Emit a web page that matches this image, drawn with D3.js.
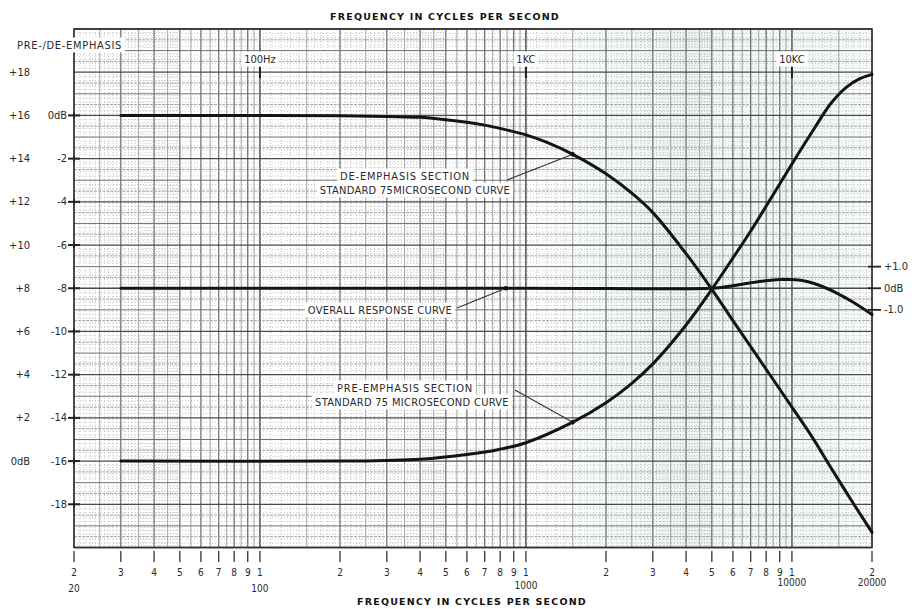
<!DOCTYPE html>
<html>
<head>
<meta charset="utf-8">
<script src="https://cdnjs.cloudflare.com/ajax/libs/d3/7.8.5/d3.min.js"></script>
<style>
  html, body { margin: 0; padding: 0; background: #fff; }
  svg { display: block; }
  .lbl { font-family: "DejaVu Sans Condensed", "DejaVu Sans", sans-serif; fill: #2a2a2a; }
  .title { font-family: "DejaVu Sans", sans-serif; font-weight: bold; fill: #111; letter-spacing: 1.2px; }
</style>
</head>
<body>
<script>
// De-emphasis section (inner scale, 0 dB at top)
const deEmphasisFreq = [30, 100, 200, 300, 400, 500, 600, 700, 800, 1000, 1200, 1500, 2000, 2500, 3000, 4000, 5000, 6000, 7000, 8000, 10000, 12000, 14000, 17000, 20000];
const deEmphasisDb   = [0, 0, -0.01, -0.05, -0.09, -0.2, -0.32, -0.45, -0.6, -0.9, -1.25, -1.8, -2.7, -3.6, -4.5, -6.4, -8.05, -9.5, -10.7, -11.75, -13.5, -14.95, -16.3, -17.95, -19.3];

// Pre-emphasis section (outer scale, 0 dB at bottom)
const preEmphasisFreq = [30, 200, 300, 400, 600, 800, 1000, 1500, 2000, 2500, 3000, 4000, 5000, 6000, 7000, 8000, 10000, 12000, 14000, 16000, 18000, 20000];
const preEmphasisDb   = [0, 0, 0.03, 0.08, 0.3, 0.55, 0.85, 1.8, 2.7, 3.6, 4.5, 6.3, 7.95, 9.4, 10.65, 11.8, 13.75, 15.3, 16.55, 17.3, 17.7, 17.9];

// Overall response (right-hand scale, +/-1 dB)
const overallFreq = [30, 1000, 5000, 5500, 6000, 7000, 8000, 9000, 10000, 11500, 13000, 14500, 17000, 20000];
const overallDb   = [0, 0, 0, 0.05, 0.12, 0.25, 0.35, 0.4, 0.4, 0.3, 0.08, -0.18, -0.65, -1.22];

// Axis tick values and labels
const innerTicks  = [0, -2, -4, -6, -8, -10, -12, -14, -16, -18];
const innerLabels = ["0dB", "-2", "-4", "-6", "-8", "-10", "-12", "-14", "-16", "-18"];
const outerTicks  = [18, 16, 14, 12, 10, 8, 6, 4, 2, 0];
const outerLabels = ["+18", "+16", "+14", "+12", "+10", "+8", "+6", "+4", "+2", "0dB"];
const rightTicks  = [1, 0, -1];
const rightLabels = ["+1.0", "0dB", "-1.0"];
const freqTicks   = [20,30,40,50,60,70,80,90,100,200,300,400,500,600,700,800,900,1000,2000,3000,4000,5000,6000,7000,8000,9000,10000,20000];
const freqDigits  = ["2","3","4","5","6","7","8","9","1","2","3","4","5","6","7","8","9","1","2","3","4","5","6","7","8","9","1","2"];
const decadeFreqs  = [20, 100, 1000, 10000, 20000];
const decadeLabels = ["20", "100", "1000", "10000", "20000"];
const markerFreqs  = [100, 1000, 10000];
const markerLabels = ["100Hz", "1KC", "10KC"];

const W = 918, H = 609;
const svg = d3.select("body").append("svg").attr("width", W).attr("height", H);

const x = d3.scaleLog().domain([20, 20000]).range([74, 872]);
const yInner = d3.scaleLinear().domain([-20, 4]).range([547.5, 29]);   // de-emphasis scale
const yOuter = d3.scaleLinear().domain([-4, 20]).range([547.5, 29]);   // pre-emphasis scale
const yRight = d3.scaleLinear().domain([-12, 12]).range([547.5, 29]);  // overall response scale

const x0 = x.range()[0], x1 = x.range()[1];
const yT = yInner.range()[1], yB = yInner.range()[0];

// faint tint of the graph paper
const defs = svg.append("defs");
const grad = defs.append("linearGradient").attr("id", "tint").attr("x1", "0").attr("x2", "1");
grad.append("stop").attr("offset", "0").attr("stop-color", "#e4f1ec").attr("stop-opacity", 0);
grad.append("stop").attr("offset", "0.55").attr("stop-color", "#e4f1ec").attr("stop-opacity", 0.0);
grad.append("stop").attr("offset", "0.75").attr("stop-color", "#e1f0ea").attr("stop-opacity", 0.6);
grad.append("stop").attr("offset", "0.95").attr("stop-color", "#e6f2ee").attr("stop-opacity", 0.5);
grad.append("stop").attr("offset", "1").attr("stop-color", "#e6f2ee").attr("stop-opacity", 0.2);
svg.append("rect").attr("x", x0).attr("y", yT).attr("width", x1 - x0).attr("height", yB - yT).attr("fill", "url(#tint)");

const grid = svg.append("g");

// vertical grid: fine, half-unit and whole-unit lines per decade
const fineV = [], halfV = [], wholeV = [];
[10, 100, 1000, 10000].forEach(d => {
  for (let m = 1; m < 10.001; m += 0.1) {
    const v = +(m * d).toFixed(4);
    if (v < 20 || v > 20000) continue;
    const r = Math.round(m * 10) / 10;
    if (Math.abs(r - Math.round(r)) < 1e-6) wholeV.push(v);
    else if (Math.abs(r * 2 - Math.round(r * 2)) < 1e-6) halfV.push(v);
    else if (r < 5) fineV.push(v);
  }
});
grid.selectAll(".vf").data(fineV).join("line")
  .attr("x1", d => x(d)).attr("x2", d => x(d)).attr("y1", yT).attr("y2", yB)
  .attr("stroke", "#9a9a9a").attr("stroke-width", 0.6).attr("stroke-dasharray", "1,2");
grid.selectAll(".vh").data(halfV).join("line")
  .attr("x1", d => x(d)).attr("x2", d => x(d)).attr("y1", yT).attr("y2", yB)
  .attr("stroke", "#8a8a8a").attr("stroke-width", 0.8);
grid.selectAll(".vw").data(wholeV).join("line")
  .attr("x1", d => x(d)).attr("x2", d => x(d)).attr("y1", yT).attr("y2", yB)
  .attr("stroke", "#5a5a5a").attr("stroke-width", 1.1);

// horizontal grid on the inner dB scale
const fineH = [], halfH = [], oneH = [], twoH = [];
for (let i = -100; i <= 20; i++) {
  const v = i * 0.2;
  if (i % 10 === 0) twoH.push(v);
  else if (i % 5 === 0) oneH.push(v);
  else fineH.push(v);
}
for (let v = -19.5; v < 4; v += 1) halfH.push(v);
grid.selectAll(".hf").data(fineH).join("line")
  .attr("x1", x0).attr("x2", x1).attr("y1", d => yInner(d)).attr("y2", d => yInner(d))
  .attr("stroke", "#a0a0a0").attr("stroke-width", 0.6).attr("stroke-dasharray", "1,2");
grid.selectAll(".hh").data(halfH).join("line")
  .attr("x1", x0).attr("x2", x1).attr("y1", d => yInner(d)).attr("y2", d => yInner(d))
  .attr("stroke", "#8c8c8c").attr("stroke-width", 0.8).attr("stroke-dasharray", "3,1");
grid.selectAll(".ho").data(oneH).join("line")
  .attr("x1", x0).attr("x2", x1).attr("y1", d => yInner(d)).attr("y2", d => yInner(d))
  .attr("stroke", "#707070").attr("stroke-width", 1);
grid.selectAll(".ht").data(twoH).join("line")
  .attr("x1", x0).attr("x2", x1).attr("y1", d => yInner(d)).attr("y2", d => yInner(d))
  .attr("stroke", "#4a4a4a").attr("stroke-width", 1.3);

// frame
svg.append("rect").attr("x", x0).attr("y", yT).attr("width", x1 - x0).attr("height", yB - yT)
  .attr("fill", "none").attr("stroke", "#333").attr("stroke-width", 1.6);

// curves
const line = d3.line().curve(d3.curveCatmullRom.alpha(0.5));
const curveStyle = sel => sel.attr("fill", "none").attr("stroke", "#141414").attr("stroke-width", 3)
  .attr("stroke-linecap", "round").attr("stroke-linejoin", "round");

svg.append("path").call(curveStyle)
  .attr("d", line(deEmphasisFreq.map((f, i) => [x(f), yInner(deEmphasisDb[i])])));
svg.append("path").call(curveStyle)
  .attr("d", line(preEmphasisFreq.map((f, i) => [x(f), yOuter(preEmphasisDb[i])])));
svg.append("path").call(curveStyle)
  .attr("d", line(overallFreq.map((f, i) => [x(f), yRight(overallDb[i])])));

// white-backed text helper
function label(g, tx, ty, text, opts = {}) {
  const t = g.append("text").attr("class", opts.cls || "lbl").attr("x", tx).attr("y", ty)
    .attr("text-anchor", opts.anchor || "start").attr("dominant-baseline", "central")
    .style("font-size", (opts.size || 11) + "px").text(text);
  if (opts.ls) t.style("letter-spacing", opts.ls + "px");
  if (opts.bg) {
    const b = t.node().getBBox();
    g.insert("rect", () => t.node()).attr("x", b.x - 3).attr("y", b.y - 1)
      .attr("width", b.width + 6).attr("height", b.height + 2).attr("fill", "#fff");
  }
  return t;
}

const ann = svg.append("g");

// left axis labels
innerTicks.forEach((v, i) => {
  label(ann, 67, yInner(v), innerLabels[i], { anchor: "end", size: 11 });
  ann.append("line").attr("x1", 68).attr("x2", 80).attr("y1", yInner(v)).attr("y2", yInner(v))
    .attr("stroke", "#222").attr("stroke-width", 2);
  ann.append("line").attr("x1", 74).attr("x2", 74).attr("y1", yInner(v) - 3).attr("y2", yInner(v) + 3)
    .attr("stroke", "#222").attr("stroke-width", 1.5);
});
outerTicks.forEach((v, i) => {
  label(ann, 30, yOuter(v), outerLabels[i], { anchor: "end", size: 11 });
});
label(ann, 17, 45, "PRE-/DE-EMPHASIS", { size: 11, ls: 0.7, bg: true });

// right axis (overall response)
rightTicks.forEach((v, i) => {
  const yy = yRight(v);
  ann.append("line").attr("x1", 868).attr("x2", 881).attr("y1", yy).attr("y2", yy)
    .attr("stroke", "#222").attr("stroke-width", 1.8);
  label(ann, 884, yy, rightLabels[i], { size: 11, bg: true });
});

// top frequency markers
markerFreqs.forEach((f, i) => {
  const xx = x(f);
  label(ann, xx, 59, markerLabels[i], { anchor: "middle", size: 11, bg: true });
  ann.append("line").attr("x1", xx).attr("x2", xx).attr("y1", 67).attr("y2", 78)
    .attr("stroke", "#222").attr("stroke-width", 2);
});

// bottom frequency ticks and digits
freqTicks.forEach((f, i) => {
  const xx = x(f);
  ann.append("line").attr("x1", xx).attr("x2", xx).attr("y1", 551).attr("y2", 562)
    .attr("stroke", "#222").attr("stroke-width", 1.2);
  label(ann, xx, 572, freqDigits[i], { anchor: "middle", size: 10 });
});
decadeFreqs.forEach((f, i) => {
  const yy = f < 1000 ? 588 : (f < 10000 ? 585 : 582);
  label(ann, x(f), yy, decadeLabels[i], { anchor: "middle", size: 10 });
});

// titles
label(ann, 445, 16, "FREQUENCY IN CYCLES PER SECOND", { cls: "title", anchor: "middle", size: 9.5 });
label(ann, 472, 601, "FREQUENCY IN CYCLES PER SECOND", { cls: "title", anchor: "middle", size: 9.5 });

// curve annotations with leader lines
function leader(x1p, y1p, x2p, y2p) {
  ann.append("line").attr("x1", x1p).attr("y1", y1p).attr("x2", x2p).attr("y2", y2p)
    .attr("stroke", "#333").attr("stroke-width", 1.1);
  ann.append("circle").attr("cx", x2p).attr("cy", y2p).attr("r", 2.2).attr("fill", "#141414");
}

label(ann, 405, 176, "DE-EMPHASIS SECTION", { anchor: "middle", size: 11, ls: 0.8, bg: true });
label(ann, 415, 190, "STANDARD 75MICROSECOND CURVE", { anchor: "middle", size: 11, ls: 0.3, bg: true });
leader(507, 180, x(deEmphasisFreq[11]), yInner(deEmphasisDb[11]));

label(ann, 380, 310, "OVERALL RESPONSE CURVE", { anchor: "middle", size: 11, ls: 0.3, bg: true });
leader(457, 308, x(840), yRight(overallDb[1]));

label(ann, 405, 388, "PRE-EMPHASIS SECTION", { anchor: "middle", size: 11, ls: 0.8, bg: true });
label(ann, 412, 402, "STANDARD 75 MICROSECOND CURVE", { anchor: "middle", size: 11, ls: 0.3, bg: true });
leader(515, 390, x(preEmphasisFreq[7]), yOuter(preEmphasisDb[7]));
</script>
</body>
</html>
